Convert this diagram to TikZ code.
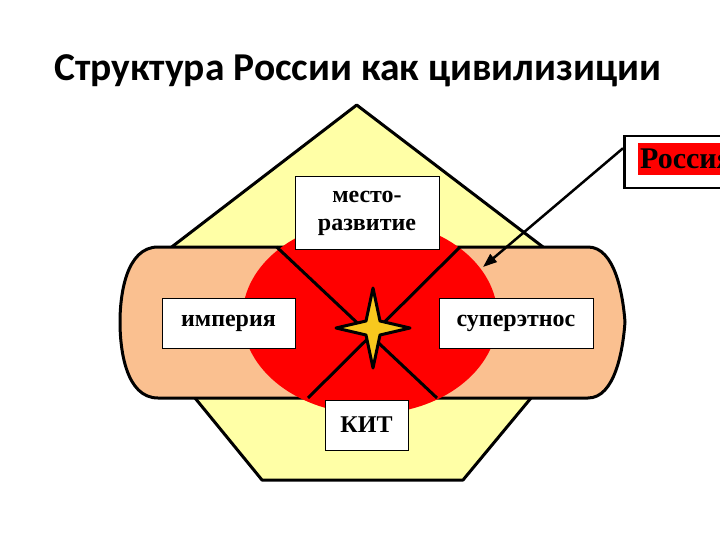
\documentclass[tikz,border=0pt]{standalone}
\usepackage{fontspec}
\setmainfont{Liberation Serif}
\newfontfamily\titlefont{Carlito}
\usetikzlibrary{arrows.meta}
\definecolor{pentyellow}{RGB}{255,255,166}
\definecolor{bandpeach}{RGB}{250,192,144}
\definecolor{stargold}{RGB}{248,200,30}
\begin{document}
\begin{tikzpicture}[x=1pt,y=-1pt,
  outline/.style={draw=black,line width=3pt,line join=round},
  crossline/.style={draw=black,line width=3pt},
  labelbox/.style={draw=black,line width=1pt,fill=white,font=\bfseries\fontsize{24}{28}\selectfont,inner sep=0pt,align=center},
]
\useasboundingbox (0,0) rectangle (720,540);
\clip (0,0) rectangle (720,540);
\fill[white] (0,0) rectangle (720,540);
\node[font=\titlefont\bfseries\fontsize{39.5}{46}\selectfont, anchor=base] (title) at (358,81) {Структура России как цивилизиции};
% pentagon
\draw[outline, fill=pentyellow] (356.7,105) -- (171.7,247) -- (160,322) -- (195,398) -- (262,480) -- (463,480) -- (531,398) -- (560,322) -- (543,247) -- cycle;
% band
\draw[outline, fill=bandpeach] (158,247) -- (588,247) .. controls (615,247) and (623,295) .. (625,322) .. controls (623,350) and (615,398) .. (588,398) -- (158,398) .. controls (126,398) and (120,350) .. (120,322) .. controls (120,295) and (126,247) .. (158,247) -- cycle;
% red ellipse
\fill[red] (370,317) ellipse [x radius=127.5, y radius=97];
% cross lines
\coordinate (c1a) at (276.7,247);
\coordinate (c1b) at (437,398);
\coordinate (c2a) at (460,247);
\coordinate (c2b) at (308,398);
\draw[crossline] (c1a) -- (c1b);
\draw[crossline] (c2a) -- (c2b);
% boxes
\node[labelbox, minimum width=144pt, minimum height=72pt] (mesto) at (367,213) {место-\\развитие};
\node[labelbox, minimum width=133pt, minimum height=50pt] (imp) at (228.5,323) {империя};
\node[labelbox, minimum width=154pt, minimum height=50pt] (super) at (516,323) {суперэтнос};
\node[labelbox, minimum width=83pt, minimum height=50pt] (kit) at (366.5,425) {КИТ};
% star
\draw[line width=3pt, line join=round, fill=stargold] (373,288) -- (380,321) -- (410,328) -- (380,335) -- (373,368) -- (366,335) -- (336,328) -- (366,321) -- cycle;
% Россия box
\node[draw=black, line width=2.5pt, fill=white, anchor=north west, minimum width=160pt, minimum height=52pt, inner sep=0pt] (rossbox) at (623,135) {};
\node[fill=red, anchor=north west, minimum height=32pt, inner xsep=2pt, inner ysep=0pt, font=\bfseries\fontsize{30}{32}\selectfont, text=black] (ross) at (638,143) {Россия};
\coordinate (tip) at (483,267);
\draw[line width=2.5pt, -{Triangle[length=14pt,width=10pt]}] ([yshift=14pt]rossbox.west) -- (tip);
\end{tikzpicture}
\end{document}
